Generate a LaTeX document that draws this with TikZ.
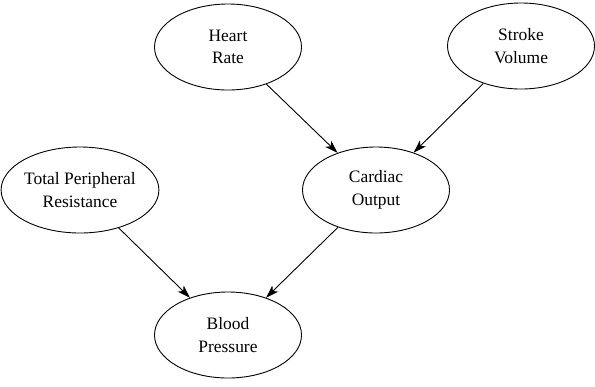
\documentclass[tikz,border=0pt]{standalone}
\usepackage{fontspec}
\setmainfont{Liberation Serif}
\usetikzlibrary{shapes.geometric,arrows.meta}

\begin{document}
\begin{tikzpicture}[x=1bp,y=-1bp,
    var/.style={draw,ellipse,line width=0.9bp,minimum width=147bp,
      minimum height=86bp,inner sep=0pt,align=center,
      font=\fontsize{17.5}{22.7}\selectfont},
    infl/.style={-{Stealth[length=13bp,width=8.5bp,inset=3.5bp]},line width=0.9bp}]
  \useasboundingbox (0,0) rectangle (595,386);

	% causes
	\node[var] (rate) at (228,47) {Heart\\Rate};
	\node[var] (volume) at (521,46) {Stroke\\Volume};
	\node[var] (resist) at (80,190) {Total Peripheral\\Resistance};

	% effects
	\node[var] (output) at (376,190) {Cardiac\\Output};
	\node[var] (pressure) at (228,335) {Blood\\Pressure};

	\draw[infl] (rate) -- (output); \draw[infl] (volume) -- (output);
	\draw[infl] (resist) -- (pressure); \draw[infl] (output) -- (pressure);
\end{tikzpicture}
\end{document}
